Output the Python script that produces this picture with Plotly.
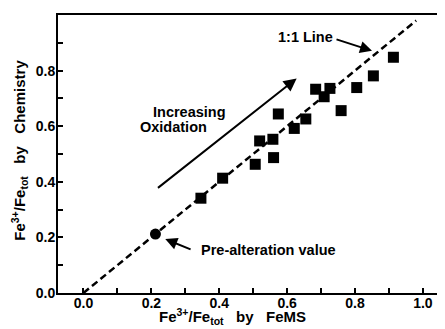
import plotly.graph_objects as go

# Fe3+/Fe_tot by FeMS (x) vs by chemistry (y)
fems = [0.346, 0.41, 0.506, 0.519, 0.558, 0.56, 0.574, 0.621, 0.655,
        0.684, 0.709, 0.726, 0.759, 0.805, 0.854, 0.913]
chem = [0.341, 0.413, 0.463, 0.547, 0.553, 0.487, 0.644, 0.592, 0.626,
        0.733, 0.706, 0.736, 0.656, 0.739, 0.781, 0.848]

# pre-alteration value
pre_x = [0.212]
pre_y = [0.212]

# 1:1 line
line_x = [0.0, 0.98]
line_y = [0.0, 0.98]

ticks = [0.0, 0.2, 0.4, 0.6, 0.8, 1.0]
tick_text = ["0.0", "0.2", "0.4", "0.6", "0.8", "1.0"]

font = "Liberation Sans, Arial, sans-serif"
txt = dict(size=14.5, color="black", family=font)
title_font = dict(size=15, color="black", family=font)


def b(s):
    return "<b>" + s + "</b>"


fig = go.Figure()
fig.add_trace(go.Scatter(x=line_x, y=line_y, mode="lines",
                         line=dict(color="black", width=2.5, dash="7px,4px")))
fig.add_trace(go.Scatter(x=fems, y=chem, mode="markers",
                         marker=dict(symbol="square", size=11, color="black")))
fig.add_trace(go.Scatter(x=pre_x, y=pre_y, mode="markers",
                         marker=dict(symbol="circle", size=11, color="black")))

# arrows and labels
fig.add_annotation(x=0.628, y=0.772, ax=0.215, ay=0.374, axref="x", ayref="y",
                   text="", showarrow=True, arrowhead=2, arrowsize=1.3,
                   arrowwidth=2, arrowcolor="black")
fig.add_annotation(x=0.313, y=0.651, text=b("Increasing"), showarrow=False, font=txt)
fig.add_annotation(x=0.266, y=0.597, text=b("Oxidation"), showarrow=False, font=txt)
fig.add_annotation(x=0.85, y=0.871, ax=0.741, ay=0.914, axref="x", ayref="y",
                   text="", showarrow=True, arrowhead=2, arrowsize=1.2,
                   arrowwidth=2, arrowcolor="black")
fig.add_annotation(x=0.654, y=0.921, text=b("1:1 Line"), showarrow=False, font=txt)
fig.add_annotation(x=0.241, y=0.194, ax=0.32, ay=0.155, axref="x", ayref="y",
                   text="", showarrow=True, arrowhead=2, arrowsize=1.2,
                   arrowwidth=2, arrowcolor="black")
fig.add_annotation(x=0.341, y=0.155, text=b("Pre-alteration value"), showarrow=False,
                   xanchor="left", font=txt)

# axis titles
sp = "&nbsp;&nbsp;&nbsp;"
fig.add_annotation(xref="paper", yref="paper", x=0.452, y=-0.13,
                   text=b("Fe<sup>3+</sup>/Fe<sub>tot</sub>" + sp + "by" + sp + "FeMS"),
                   showarrow=False, font=title_font)
fig.add_annotation(xref="paper", yref="paper", x=-0.134, y=0.514, textangle=-90,
                   text=b("Fe<sup>3+</sup>/Fe<sub>tot</sub>" + sp + "by" + sp + "Chemistry"),
                   showarrow=False, font=title_font)

# page body has an 8px margin, so the figure is sized to fit inside the window
fig.update_layout(
    width=437, height=321,
    margin=dict(l=50, r=0, t=7, b=36),
    plot_bgcolor="white", paper_bgcolor="white",
    showlegend=False,
    font=dict(family=font, size=14, color="black"),
    xaxis=dict(range=[-0.075, 1.065], tickvals=ticks, ticktext=[b(t) for t in tick_text],
               ticks="inside", ticklen=5, tickwidth=1.5, tickcolor="black",
               minor=dict(ticks="inside", dtick=0.1, tick0=0, ticklen=5, tickwidth=1.5, tickcolor="black"),
               showline=True, linecolor="black", linewidth=2, mirror=True,
               showgrid=False, zeroline=False, automargin=False, ticklabelstandoff=-4),
    yaxis=dict(range=[0, 1.0], tickvals=ticks, ticktext=[b(t) for t in tick_text],
               ticks="inside", ticklen=5, tickwidth=1.5, tickcolor="black",
               minor=dict(ticks="inside", dtick=0.1, tick0=0, ticklen=5, tickwidth=1.5, tickcolor="black"),
               showline=True, linecolor="black", linewidth=2,
               showgrid=False, zeroline=False, automargin=False, ticklabelstandoff=-2),
)

fig.write_html("out.html")
